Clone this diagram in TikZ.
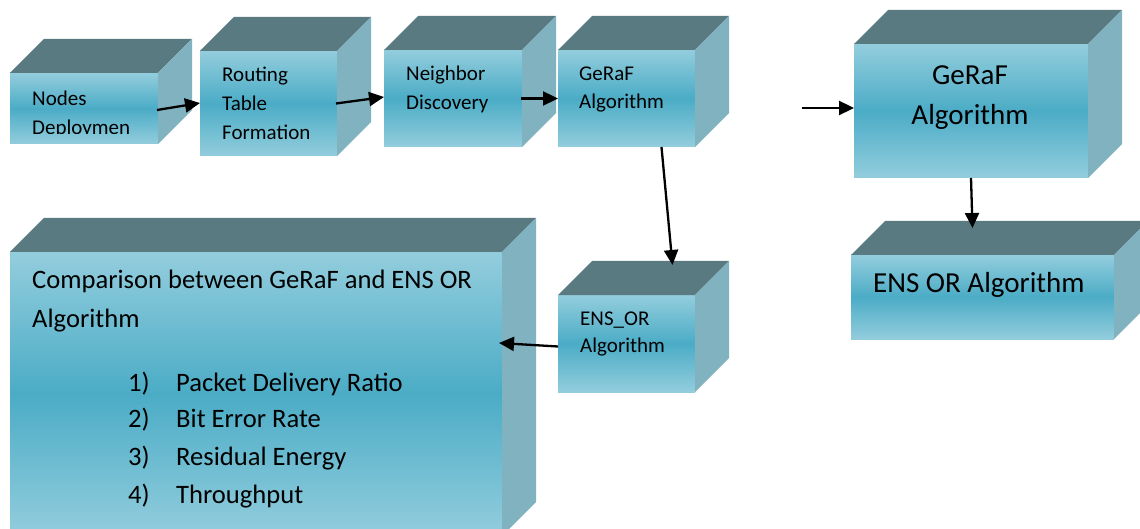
\documentclass[tikz,border=0pt]{standalone}
\usepackage{fontspec}
\setmainfont{Carlito}
\usetikzlibrary{calc,arrows.meta}
\definecolor{lightc}{RGB}{147,205,221}
\definecolor{midc}{RGB}{75,172,198}
\definecolor{topc}{RGB}{90,122,130}
\definecolor{sidec}{RGB}{128,178,192}
\tikzset{
 front/.style={anchor=north west, inner sep=0pt, outer sep=0pt, top color=lightc, bottom color=lightc, middle color=midc, draw=none},
 topface/.style={fill=topc},
 sideface/.style={fill=sidec},
 arr/.style={line width=2.3pt, -{Triangle[length=15pt,width=14pt]}},
 lbl/.style={anchor=base west, inner sep=0pt, font=\fontsize{21}{25}\selectfont},
 cmp/.style={anchor=base west, inner sep=0pt, font=\fontsize{26.6}{30}\selectfont},
 big/.style={inner sep=0pt, font=\fontsize{29}{34}\selectfont},
}
\newcommand\boxfaces[1]{%
 \fill[topface] (#1.north west) -- ($(#1.north west)+(34,-34)$) -- ($(#1.north east)+(34,-34)$) -- (#1.north east) -- cycle;
 \fill[sideface] (#1.north east) -- ($(#1.north east)+(34,-34)$) -- ($(#1.south east)+(34,-34)$) -- (#1.south east) -- cycle;}
\begin{document}
\begin{tikzpicture}[x=1pt,y=-1pt]
\useasboundingbox (0,0) rectangle (1140,529);
% boxes
\node[front, minimum width=148pt, minimum height=71pt] (b1) at (10,73) {};
\boxfaces{b1}
\node[front, minimum width=137pt, minimum height=105pt] (b2) at (200,51) {};
\boxfaces{b2}
\node[front, minimum width=138pt, minimum height=97pt] (b3) at (384,50) {};
\boxfaces{b3}
\node[front, minimum width=137pt, minimum height=97pt] (b4) at (558,50) {};
\boxfaces{b4}
\node[front, minimum width=234pt, minimum height=134pt] (bg) at (854,44) {};
\boxfaces{bg}
\node[front, minimum width=263pt, minimum height=84pt] (be) at (851,255) {};
\boxfaces{be}
\node[front, minimum width=137pt, minimum height=97pt] (bs) at (558,295) {};
\boxfaces{bs}
\node[front, minimum width=492pt, minimum height=284pt] (bc) at (10,252) {};
\boxfaces{bc}
% texts
\node[lbl] (t1a) at (32,106) {Nodes};
\begin{scope}
\clip (10,73) rectangle (158,134);
\node[lbl] (t1b) at (32,135) {Deploymen};
\end{scope}
\node[lbl] (t2a) at (222,82) {Routing};
\node[lbl] (t2b) at (222,111) {Table};
\node[lbl] (t2c) at (222,140) {Formation};
\node[lbl] (t3a) at (406,81) {Neighbor};
\node[lbl] (t3b) at (406,110) {Discovery};
\node[lbl] (t4a) at (579,81) {GeRaF};
\node[lbl] (t4b) at (579,109) {Algorithm};
\node[big, anchor=base] (tga) at (970,85) {GeRaF};
\node[big, anchor=base] (tgb) at (970,125) {Algorithm};
\node[big, anchor=base west] (tea) at (873,293) {ENS OR Algorithm};
\node[lbl] (tsa) at (580,325) {ENS\_OR};
\node[lbl] (tsb) at (580,352) {Algorithm};
\node[cmp] (tca) at (32,288) {Comparison between GeRaF and ENS OR};
\node[cmp] (tcb) at (32,327) {Algorithm};
\node[cmp] (n1) at (128,391) {1)};
\node[cmp] (l1) at (176,391) {Packet Delivery Ratio};
\node[cmp] (n2) at (128,427) {2)};
\node[cmp] (l2) at (176,427) {Bit Error Rate};
\node[cmp] (n3) at (128,465) {3)};
\node[cmp] (l3) at (176,465) {Residual Energy};
\node[cmp] (n4) at (128,503) {4)};
\node[cmp] (l4) at (176,503) {Throughput};
% connectors
\coordinate (src) at (802,108);
\draw[arr] ($(b1.east)+(-1,1.5)$) -- ($(b2.west)+(0,-0.5)$);
\draw[arr] ($(b2.east)+(-1,0)$) -- ($(b3.west)+(0,-1.5)$);
\draw[arr] ($(b3.east)+(-1,0)$) -- (b4.west);
\draw[arr] ($(b4.south)+(35,0)$) -- ($(bs.north)+(46,-30)$);
\draw[arr] ($(bs.west)+(0,3)$) -- ($(bc.east)+(-3,-51)$);
\draw[arr] (src) -- ($(bg.west)+(0,-3)$);
\draw[arr] (bg.south) -- ($(be.north)+(-10,-27)$);
\end{tikzpicture}
\end{document}
